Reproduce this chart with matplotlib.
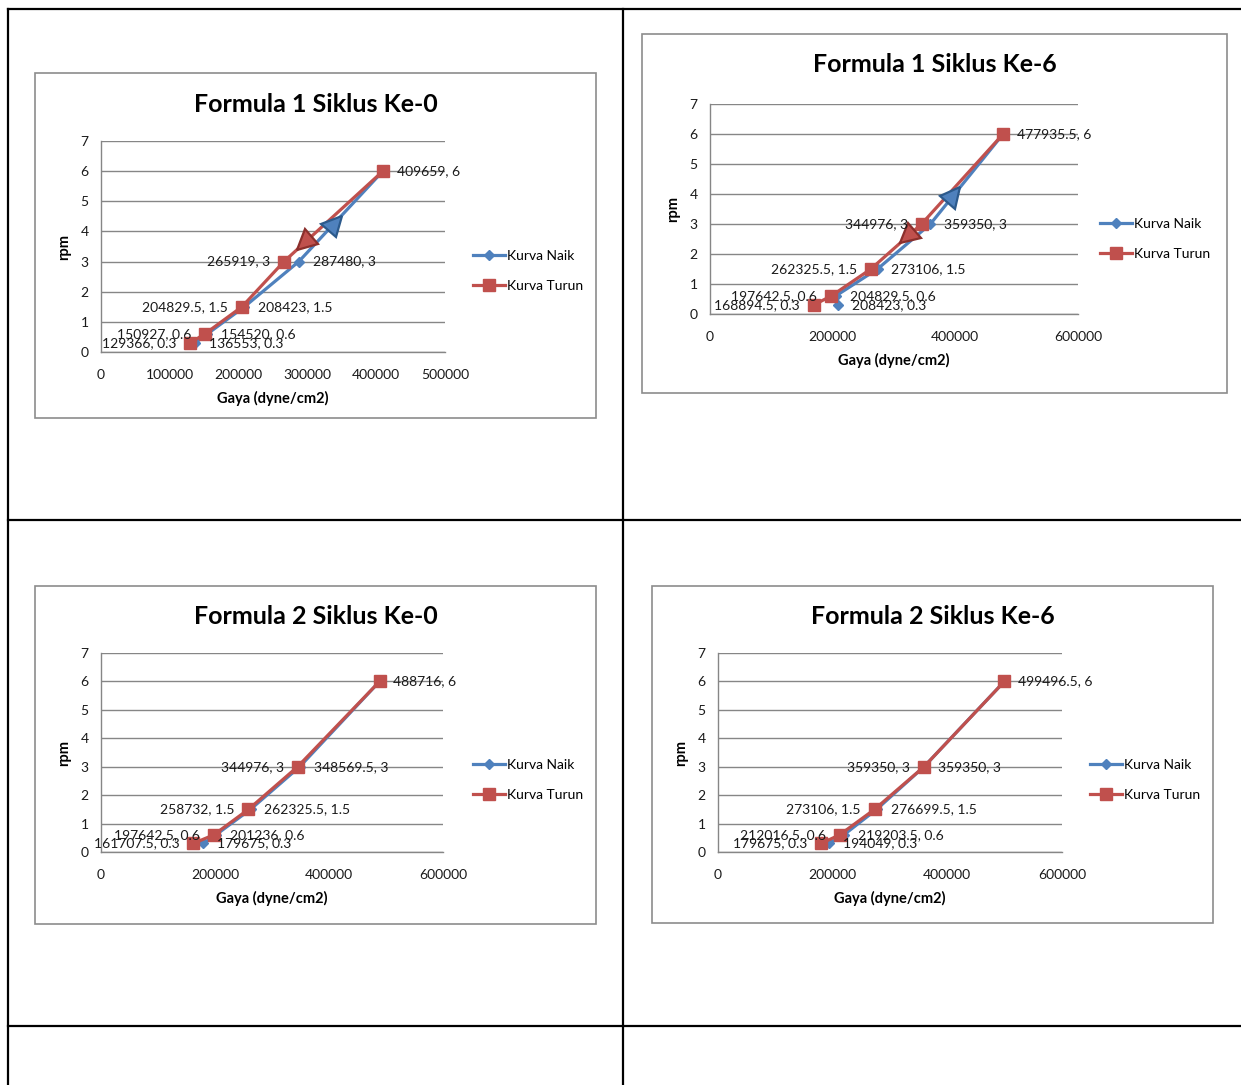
import numpy as np
import matplotlib
matplotlib.use("Agg")
import matplotlib.pyplot as plt
from matplotlib.markers import MarkerStyle
from matplotlib.transforms import Affine2D

plt.rcParams['font.family'] = ['Lato', 'DejaVu Sans']

W, H = 1241, 1085

titles = ["Formula 1 Siklus Ke-0", "Formula 1 Siklus Ke-6",
          "Formula 2 Siklus Ke-0", "Formula 2 Siklus Ke-6"]
rpm = [0.3, 0.6, 1.5, 3, 6]

# gaya (dyne/cm2) per chart
naik_f1_s0 = [136553, 154520, 208423, 287480, 409659]
turun_f1_s0 = [129366, 150927, 204829.5, 265919, 409659]
naik_f1_s6 = [208423, 204829.5, 273106, 359350, 477935.5]
turun_f1_s6 = [168894.5, 197642.5, 262325.5, 344976, 477935.5]
naik_f2_s0 = [179675, 201236, 262325.5, 348569.5, 488716]
turun_f2_s0 = [161707.5, 197642.5, 258732, 344976, 488716]
naik_f2_s6 = [194049, 219203.5, 276699.5, 359350, 499496.5]
turun_f2_s6 = [179675, 212016.5, 273106, 359350, 499496.5]

naik = [naik_f1_s0, naik_f1_s6, naik_f2_s0, naik_f2_s6]
turun = [turun_f1_s0, turun_f1_s6, turun_f2_s0, turun_f2_s6]
xmax = [500000, 600000, 600000, 600000]
xstep = [100000, 200000, 200000, 200000]

# direction arrows: (segment index, fraction along segment) or None
arrow_naik = [(3, 0.43), (3, 0.32), None, None]
arrow_turun = [(3, 0.2), (2, 0.72), None, None]

# layout in pixels: chart box, plot area, legend anchor
boxes = [(35, 73, 596, 418), (642, 34, 1227, 393), (35, 586, 596, 924), (652, 586, 1213, 923)]
plots = [(101, 141, 445, 352), (710, 104, 1078, 314), (101, 653, 443, 852), (718, 653, 1062, 852)]
legend_xy = [(467, 271), (1094, 239), (467, 780), (1084, 780)]

BLUE = '#4F81BD'
RED = '#C0504D'
GRID = '#868686'


def fmt(v):
    return f"{v:.10g}"


fig = plt.figure(figsize=(W / 100, H / 100), dpi=100)
bg = fig.add_axes([0, 0, 1, 1])
bg.set_xlim(0, W)
bg.set_ylim(H, 0)
bg.axis('off')

# table lines
tl = dict(color='black', lw=1.6, solid_capstyle='projecting')
bg.plot([8, W], [9, 9], **tl)
bg.plot([8, 8], [9, H], **tl)
bg.plot([623, 623], [9, H], **tl)
bg.plot([8, W], [520, 520], **tl)
bg.plot([8, W], [1026, 1026], **tl)

for i in range(4):
    bx0, by0, bx1, by1 = boxes[i]
    bg.add_patch(plt.Rectangle((bx0, by0), bx1 - bx0, by1 - by0, fill=False,
                               ec='#8C8C8C', lw=1.2))
    px0, py0, px1, py1 = plots[i]
    ax = fig.add_axes([px0 / W, 1 - py1 / H, (px1 - px0) / W, (py1 - py0) / H])
    ax.set_xlim(0, xmax[i])
    ax.set_ylim(0, 7)
    ax.set_xticks(np.arange(0, xmax[i] + 1, xstep[i]))
    ax.set_yticks(range(8))
    ax.set_xticklabels([f"{int(v)}" for v in ax.get_xticks()])
    ax.grid(axis='y', color=GRID, lw=1.0)
    ax.set_axisbelow(True)
    for s in ['top', 'right']:
        ax.spines[s].set_visible(False)
    for s in ['left', 'bottom']:
        ax.spines[s].set_color(GRID)
        ax.spines[s].set_linewidth(1.0)
    ax.tick_params(length=0, labelsize=10, colors='#1a1a1a')
    ax.tick_params(axis='x', pad=12)
    ax.tick_params(axis='y', pad=9)

    ax.plot(naik[i], rpm, color=BLUE, lw=2.3, marker='D', ms=5.5,
            label='Kurva Naik', zorder=3)
    ax.plot(turun[i], rpm, color=RED, lw=2.3, marker='s', ms=8.5,
            label='Kurva Turun', zorder=4)

    for k, (xv, yv) in enumerate(zip(naik[i], rpm)):
        ax.annotate(f"{fmt(xv)}, {fmt(yv)}", (xv, yv), xytext=(10, 0),
                    textcoords='offset points', ha='left', va='center',
                    fontsize=10, color='#1a1a1a', zorder=6)
    for k, (xv, yv) in enumerate(zip(turun[i], rpm)):
        if k == len(rpm) - 1:
            continue
        ax.annotate(f"{fmt(xv)}, {fmt(yv)}", (xv, yv), xytext=(-10, 0),
                    textcoords='offset points', ha='right', va='center',
                    fontsize=10, color='#1a1a1a', zorder=6)

    # direction arrows drawn on the curves
    for arr, xs, col, edge, sign in [(arrow_naik[i], naik[i], BLUE, '#2C5A8C', 1),
                                     (arrow_turun[i], turun[i], RED, '#8B2F2C', -1)]:
        if arr is None:
            continue
        seg, f = arr
        p0 = np.array([xs[seg], rpm[seg]])
        p1 = np.array([xs[seg + 1], rpm[seg + 1]])
        p = p0 + f * (p1 - p0)
        d0 = ax.transData.transform(p0)
        d1 = ax.transData.transform(p1)
        ang = np.degrees(np.arctan2(d1[1] - d0[1], d1[0] - d0[0]))
        if sign < 0:
            ang += 180
        m = MarkerStyle('^', transform=Affine2D().rotate_deg(ang - 90))
        ax.plot([p[0]], [p[1]], marker=m, ms=14, color=col, mec=edge, mew=1.6,
                zorder=5, linestyle='none')

    ax.set_xlabel('Gaya (dyne/cm2)', fontsize=10.5, fontweight='bold')
    ax.set_ylabel('rpm', fontsize=10.5, fontweight='bold')
    ax.xaxis.set_label_coords(0.5, -(39 / (py1 - py0)))
    ax.yaxis.set_label_coords(-(30 / (px1 - px0)), 0.5)

    bg.text((bx0 + bx1) / 2, by0 + 31, titles[i], fontsize=18, fontweight='bold',
            ha='center', va='center', color='black')

    lx, ly = legend_xy[i]
    ax.legend(loc='center left', bbox_to_anchor=(lx / W, 1 - ly / H),
              bbox_transform=fig.transFigure, frameon=False, fontsize=10,
              handlelength=2.3, handletextpad=0.2, labelspacing=1.25,
              borderaxespad=0)

fig.savefig('out.png', dpi=100, facecolor='white')
